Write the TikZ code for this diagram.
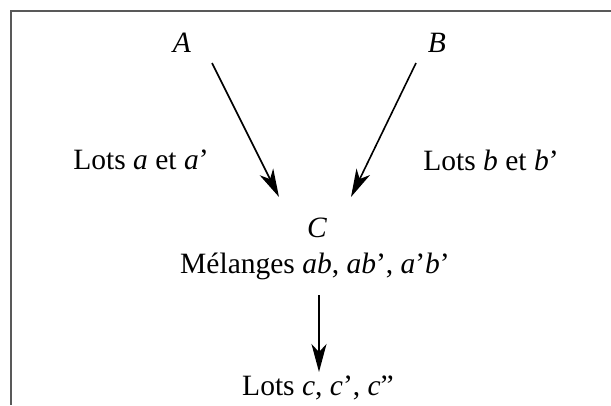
\documentclass[tikz,border=0pt]{standalone}
\usepackage{fontspec}
\setmainfont{Liberation Serif}
\usetikzlibrary{arrows.meta}
\tikzset{
  lbl/.style={inner sep=0pt, font=\fontsize{29.5}{35}\selectfont},
  flow/.style={line width=1.6pt, -{Stealth[length=28pt,width=15pt,inset=8pt]}},
  frame/.style={line width=2pt, draw=black!65}
}
\begin{document}
\begin{tikzpicture}[x=1pt,y=-1pt]
\useasboundingbox (0,0) rectangle (611,405);
\fill[white] (0,0) rectangle (611,405);
\coordinate (f0) at (611,11);
\coordinate (f1) at (11,11);
\coordinate (f2) at (11,405);
\draw[frame] (f0) -- (f1) -- (f2);
\node[lbl] (A) at (182,43) {\textit{A}};
\node[lbl] (B) at (437,43) {\textit{B}};
\node[lbl] (la) at (141,160) {Lots \textit{a} et \textit{a}’};
\node[lbl] (lb) at (491,160) {Lots \textit{b} et \textit{b}’};
\node[lbl] (C) at (317,228) {\textit{C}};
\node[lbl] (M) at (315,266) {Mélanges \textit{ab}, \textit{ab}’, \textit{a}’\textit{b}’};
\node[lbl] (Lc) at (318,388) {Lots \textit{c}, \textit{c}’, \textit{c}”};
\coordinate (a1) at (212,63);
\coordinate (a2) at (279,197);
\coordinate (b1) at (416,63);
\coordinate (b2) at (351,197);
\coordinate (c1) at (319,295);
\coordinate (c2) at (319,372);
\draw[flow] (a1) -- (a2);
\draw[flow] (b1) -- (b2);
\draw[flow] (c1) -- (c2);
\end{tikzpicture}
\end{document}
